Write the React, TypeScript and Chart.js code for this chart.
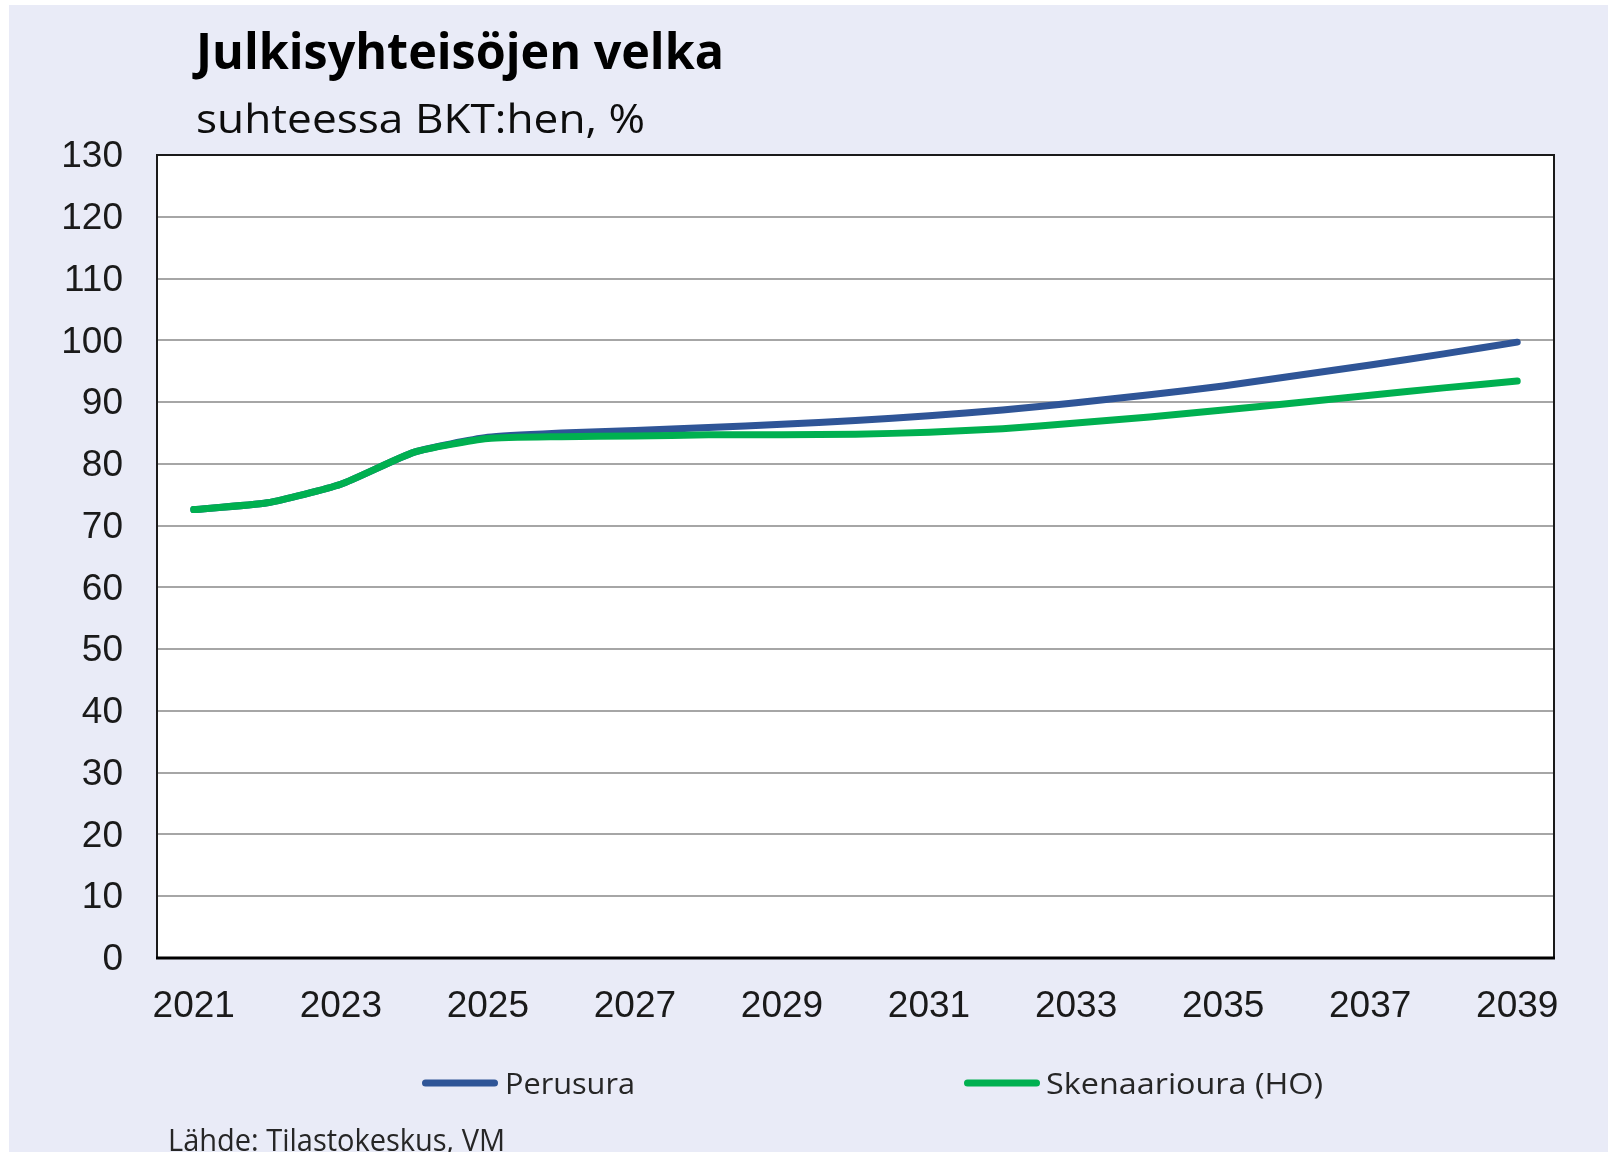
import React, { useEffect, useRef } from "react";
import { Chart, registerables } from "chart.js";

Chart.register(...registerables);

const titleText = "Julkisyhteisöjen velka";
const subtitleText = "suhteessa BKT:hen, %";
const sourceText = "Lähde: Tilastokeskus, VM";

const years = [
  "2021", "2022", "2023", "2024", "2025", "2026", "2027", "2028", "2029", "2030",
  "2031", "2032", "2033", "2034", "2035", "2036", "2037", "2038", "2039",
];

const perusura = [
  72.6, 73.7, 76.7, 81.9, 84.3, 85.0, 85.4, 85.9, 86.4, 87.0,
  87.8, 88.7, 89.9, 91.2, 92.6, 94.3, 96.0, 97.8, 99.7,
];

const skenaarioura = [
  72.6, 73.7, 76.7, 81.9, 84.1, 84.4, 84.5, 84.7, 84.7, 84.8,
  85.1, 85.7, 86.6, 87.6, 88.7, 89.9, 91.1, 92.3, 93.4,
];

const seriesLabels = ["Perusura", "Skenaarioura (HO)"];
const seriesColors = ["#2F5597", "#00B050"];

const BG = "#E9EBF7";
const CANVAS_W = 1599;
const CANVAS_H = 1147;

function fitText(
  ctx: CanvasRenderingContext2D,
  text: string,
  x: number,
  y: number,
  font: string,
  width: number,
  color: string
) {
  ctx.save();
  ctx.font = font;
  ctx.fillStyle = color;
  ctx.textAlign = "left";
  ctx.textBaseline = "alphabetic";
  const m = ctx.measureText(text).width;
  ctx.translate(x, y);
  ctx.scale(width / m, 1);
  ctx.fillText(text, 0, 0);
  ctx.restore();
}

const decorPlugin = {
  id: "decor",
  beforeDraw(chart: any) {
    const { ctx, chartArea } = chart;
    ctx.save();
    ctx.fillStyle = "#FFFFFF";
    ctx.fillRect(
      chartArea.left,
      chartArea.top,
      chartArea.right - chartArea.left,
      chartArea.bottom - chartArea.top
    );
    ctx.restore();
  },
  afterDraw(chart: any) {
    const { ctx, chartArea } = chart;
    ctx.save();
    ctx.strokeStyle = "#1A1A1A";
    ctx.lineWidth = 2;
    ctx.strokeRect(
      chartArea.left,
      chartArea.top,
      chartArea.right - chartArea.left,
      chartArea.bottom - chartArea.top
    );
    ctx.lineWidth = 3;
    ctx.strokeStyle = "#000000";
    ctx.beginPath();
    ctx.moveTo(chartArea.left - 1, chartArea.bottom);
    ctx.lineTo(chartArea.right + 1, chartArea.bottom);
    ctx.stroke();
    ctx.restore();

    fitText(ctx, titleText, 187, 64, "bold 50px 'Open Sans'", 528, "#000000");
    fitText(ctx, subtitleText, 187, 128, "41px 'Open Sans'", 449, "#0D0D0D");

    const legendItems = [
      { x: 413, textX: 496, width: 130 },
      { x: 955, textX: 1037, width: 277 },
    ];
    chart.data.datasets.forEach((ds: any, i: number) => {
      const it = legendItems[i];
      if (!it) return;
      ctx.save();
      ctx.strokeStyle = ds.borderColor;
      ctx.lineWidth = 7;
      ctx.lineCap = "round";
      ctx.beginPath();
      ctx.moveTo(it.x + 3.5, 1078);
      ctx.lineTo(it.x + 76 - 3.5, 1078);
      ctx.stroke();
      ctx.restore();
      fitText(ctx, ds.label, it.textX, 1089, "29px 'Open Sans'", it.width, "#262626");
    });

    fitText(ctx, sourceText, 159, 1146, "31px 'Open Sans'", 337, "#262626");
  },
};

export default function App() {
  const canvasRef = useRef<HTMLCanvasElement | null>(null);

  useEffect(() => {
    const canvas = canvasRef.current;
    if (!canvas) return;
    const chart = new Chart(canvas, {
      type: "line",
      data: {
        labels: years,
        datasets: [
          {
            label: seriesLabels[0],
            data: perusura,
            borderColor: seriesColors[0],
            backgroundColor: seriesColors[0],
            borderWidth: 7,
            borderCapStyle: "round",
            borderJoinStyle: "round",
            pointRadius: 0,
            tension: 0.18,
            fill: false,
            order: 2,
          },
          {
            label: seriesLabels[1],
            data: skenaarioura,
            borderColor: seriesColors[1],
            backgroundColor: seriesColors[1],
            borderWidth: 7,
            borderCapStyle: "round",
            borderJoinStyle: "round",
            pointRadius: 0,
            tension: 0.18,
            fill: false,
            order: 1,
          },
        ],
      },
      options: {
        responsive: false,
        animation: false,
        layout: {
          padding: { left: 48, right: 54, top: 150, bottom: 114 },
        },
        plugins: {
          legend: { display: false },
          title: { display: false },
          tooltip: { enabled: false },
        },
        scales: {
          x: {
            type: "category",
            offset: true,
            afterFit: (scale: any) => {
              scale.height = 80;
            },
            grid: { display: false, drawTicks: false },
            border: { display: false },
            ticks: {
              autoSkip: false,
              maxRotation: 0,
              minRotation: 0,
              padding: 27,
              color: "#1A1A1A",
              font: { family: "'Liberation Sans', Arial, sans-serif", size: 37 },
              callback: function (this: any, _v: any, index: number) {
                return index % 2 === 0 ? years[index] : "";
              },
            },
          },
          y: {
            min: 0,
            max: 130,
            afterFit: (scale: any) => {
              scale.width = 100;
            },
            grid: {
              color: "#A6A6A6",
              lineWidth: 2,
              drawTicks: false,
            },
            border: { display: false },
            ticks: {
              stepSize: 10,
              padding: 34,
              labelOffset: 2,
              color: "#1A1A1A",
              font: { family: "'Liberation Sans', Arial, sans-serif", size: 37 },
            },
          },
        },
      },
      plugins: [decorPlugin],
    });
    return () => chart.destroy();
  }, []);

  return (
    <div
      style={{
        position: "fixed",
        left: 0,
        top: 0,
        width: 1608,
        height: 1152,
        background: "#FFFFFF",
        overflow: "hidden",
      }}
    >
      <div
        style={{
          position: "absolute",
          left: 9,
          top: 5,
          width: CANVAS_W,
          height: CANVAS_H,
          background: BG,
        }}
      >
        <canvas
          ref={canvasRef}
          width={CANVAS_W}
          height={CANVAS_H}
          style={{ display: "block", width: CANVAS_W, height: CANVAS_H }}
        />
      </div>
    </div>
  );
}
